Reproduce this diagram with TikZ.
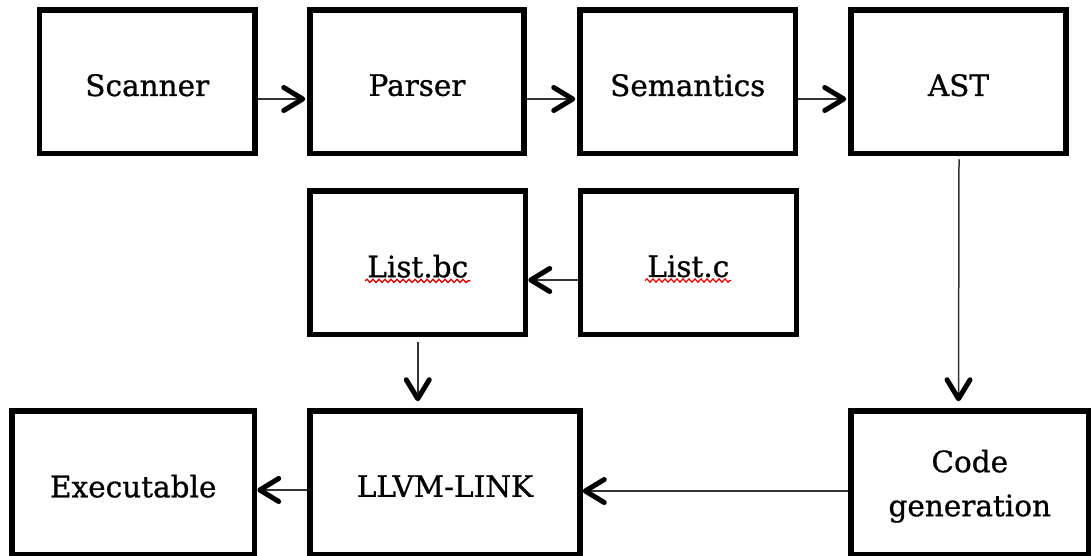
\documentclass[tikz,border=0pt]{standalone}
\usepackage{fontspec}
\setmainfont{DejaVu Serif}[FakeBold=0.8]
\usetikzlibrary{arrows.meta,decorations.pathmorphing,calc}
\begin{document}
\begin{tikzpicture}[x=1pt,y=1pt,
  box/.style={draw=black, line width=5.5pt, minimum height=143.5pt, inner sep=0pt, outer sep=2.75pt},
  lbl/.style={font=\fontsize{29.5}{44}\selectfont, yshift=-3.5pt, align=center, inner sep=0pt, text=black},
  arr/.style={draw=black!80, line width=1.5pt, -{Straight Barb[length=19pt,width=23pt,line width=5pt,round,color=black]}},
  wavy/.style={draw=red!90!black, line width=1.3pt, decorate, decoration={snake, segment length=6pt, amplitude=1.6pt}}]
\fill[white] (0,0) rectangle (1091,-556);
\useasboundingbox (0,0) rectangle (1091,-556);
% row 1
\node[box, minimum width=215.5pt, label={[name=scanl, lbl]center:Scanner}] (scan) at (147.25,-81.75) {};
\node[box, minimum width=214pt, label={[name=parsl, lbl]center:Parser}] (pars) at (417,-81.75) {};
\node[box, minimum width=215.5pt, label={[name=seml, lbl]center:Semantics}] (sem) at (687.75,-81.75) {};
\node[box, minimum width=215pt, label={[name=astl, lbl]center:AST}] (ast) at (958.5,-81.75) {};
% row 2
\node[box, minimum width=215.5pt, label={[name=lbcl, lbl]center:List.bc}] (lbc) at (417.75,-262.75) {};
\node[box, minimum width=216pt, label={[name=lcl, lbl]center:List.c}] (lc) at (688.3,-262.75) {};
% row 3
\node[box, minimum width=242.5pt, label={[name=exel, lbl]center:Executable}] (exe) at (133.25,-482.75) {};
\node[box, minimum width=270pt, label={[name=llvml, lbl]center:LLVM-LINK}] (llvm) at (445,-482.75) {};
\node[box, minimum width=237.5pt, label={[name=cgl, lbl]center:Code\\generation}] (cg) at (969.75,-482.75) {};
% spell-check underlines
\draw[wavy] ($(lbcl.south west)+(-2,-3)$) -- ($(lbcl.south east)+(2,-3)$);
\draw[wavy] ($(lcl.south west)+(-2,-3)$) -- ($(lcl.south east)+(2,-3)$);
% connectors
\draw[arr] ([yshift=-17.25pt]scan.east) -- ([yshift=-17.25pt,xshift=-2pt]pars.west);
\draw[arr] ([yshift=-17.25pt]pars.east) -- ([yshift=-17.25pt,xshift=-2pt]sem.west);
\draw[arr] ([yshift=-17.25pt]sem.east) -- ([yshift=-17.25pt,xshift=-2pt]ast.west);
\draw[arr] ([yshift=-17.25pt]lc.west) -- ([yshift=-17.25pt]lbc.east);
\draw[arr] ([yshift=-5pt]lbc.south) -- ([yshift=7pt]llvm.north -| lbc.south);
\draw[arr] ([yshift=-3pt,xshift=0.5pt]ast.south) -- ([yshift=7pt]cg.north -| ast.south);
\draw[arr] ([yshift=-8.25pt]cg.west) -- ([yshift=-8.25pt]llvm.east);
\draw[arr] ([yshift=-7.25pt]llvm.west) -- ([yshift=-7.25pt]exe.east);
\end{tikzpicture}
\end{document}
